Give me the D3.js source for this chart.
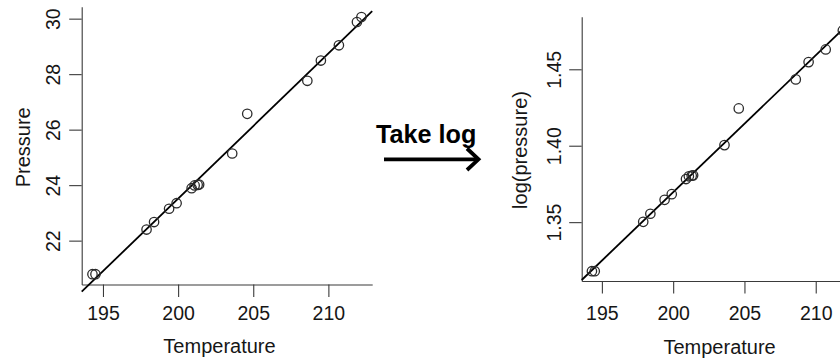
<!DOCTYPE html>
<html>
<head>
<meta charset="utf-8">
<script src="https://cdn.jsdelivr.net/npm/d3@7"></script>
<style>
  html, body { margin: 0; padding: 0; background: #fff; }
  svg { display: block; font-family: "Liberation Sans", Arial, Helvetica, sans-serif; }
</style>
</head>
<body>
<svg id="chart" width="840" height="358"></svg>
<script>
// Boiling point of water (°F) and barometric pressure (inHg)
const temperature = [194.5, 194.3, 197.9, 198.4, 199.4, 199.9, 200.9, 201.1, 201.4,
                     201.3, 203.6, 204.6, 209.5, 208.6, 210.7, 211.9, 212.2];
const pressure    = [20.79, 20.79, 22.40, 22.67, 23.15, 23.35, 23.89, 23.99, 24.02,
                     24.01, 25.14, 26.57, 28.49, 27.76, 29.04, 29.88, 30.06];
const logPressure = [1.3179, 1.3179, 1.3502, 1.3555, 1.3646, 1.3683, 1.3782, 1.3800, 1.3806,
                     1.3804, 1.4004, 1.4244, 1.4547, 1.4434, 1.4630, 1.4754, 1.4780];

const temperatureTicks = [195, 200, 205, 210];
const pressureTicks    = [22, 24, 26, 28, 30];
const logPressureTicks = [1.35, 1.40, 1.45];

const svg = d3.select("#chart");
const axisColor = "#3a3a3a";
const textColor = "#161616";

// ordinary least squares fit y = a + b x
function leastSquares(xs, ys) {
  const mx = d3.mean(xs), my = d3.mean(ys);
  let sxy = 0, sxx = 0;
  xs.forEach((x, i) => { sxy += (x - mx) * (ys[i] - my); sxx += (x - mx) * (x - mx); });
  const b = sxy / sxx;
  return { a: my - b * mx, b };
}

// R-style padded range (4% on each side)
function padded(values) {
  const [lo, hi] = d3.extent(values);
  const d = (hi - lo) * 0.04;
  return [lo - d, hi + d];
}

function scatterPanel(opts) {
  const { xs, ys, yTicks, yFormat, xRange, yRange, yLabel, xLabelX, yLabelY,
          yLabelBaseline, yTickBaseline, xTickBaseline, xLabelBaseline } = opts;
  const x = d3.scaleLinear().domain(padded(xs)).range(xRange);
  const y = d3.scaleLinear().domain(padded(ys)).range(yRange);
  const g = svg.append("g");

  // x axis
  const gx = g.append("g")
    .attr("transform", `translate(0,${yRange[0]})`)
    .call(d3.axisBottom(x).tickValues(temperatureTicks).tickSize(12.5).tickSizeOuter(0));
  gx.select(".domain").attr("stroke", axisColor).attr("stroke-width", 1.1);
  gx.selectAll(".tick line").attr("stroke", axisColor).attr("stroke-width", 1.1);
  gx.selectAll(".tick text")
    .attr("y", xTickBaseline - yRange[0]).attr("dy", null)
    .attr("font-size", 19.5).attr("fill", textColor);

  // y axis with labels turned parallel to the axis
  const gy = g.append("g")
    .attr("transform", `translate(${xRange[0]},0)`)
    .call(d3.axisLeft(y).tickValues(yTicks).tickFormat(yFormat).tickSize(12.5).tickSizeOuter(0));
  gy.select(".domain").attr("stroke", axisColor).attr("stroke-width", 1.1);
  gy.selectAll(".tick line").attr("stroke", axisColor).attr("stroke-width", 1.1);
  gy.selectAll(".tick text")
    .attr("transform", "rotate(-90)")
    .attr("x", 0).attr("y", yTickBaseline - xRange[0]).attr("dy", null)
    .attr("text-anchor", "middle")
    .attr("font-size", 19.5).attr("fill", textColor);

  // fitted line across the x range
  const fit = leastSquares(xs, ys);
  const [x0, x1] = x.domain();
  g.append("line")
    .attr("x1", x(x0)).attr("y1", y(fit.a + fit.b * x0))
    .attr("x2", x(x1)).attr("y2", y(fit.a + fit.b * x1))
    .attr("stroke", "#000").attr("stroke-width", 1.8);

  // observations
  g.append("g").selectAll("circle")
    .data(xs.map((v, i) => [v, ys[i]]))
    .join("circle")
    .attr("cx", d => x(d[0])).attr("cy", d => y(d[1]))
    .attr("r", 4.7)
    .attr("fill", "none").attr("stroke", "#2b2b2b").attr("stroke-width", 1.3);

  // axis titles
  g.append("text")
    .attr("x", xLabelX).attr("y", xLabelBaseline)
    .attr("text-anchor", "middle").attr("font-size", 20).attr("fill", textColor)
    .text("Temperature");
  g.append("text")
    .attr("transform", `translate(${yLabelBaseline},${yLabelY}) rotate(-90)`)
    .attr("text-anchor", "middle").attr("font-size", 20).attr("fill", textColor)
    .text(yLabel);
}

scatterPanel({
  xs: temperature, ys: pressure,
  yTicks: pressureTicks, yFormat: d3.format("d"),
  xRange: [81.7, 372.2], yRange: [284.5, 6.7],
  yLabel: "Pressure", xLabelX: 219.5, yLabelY: 147.3,
  yLabelBaseline: 29.5, yTickBaseline: 60, xTickBaseline: 320, xLabelBaseline: 352.5
});

scatterPanel({
  xs: temperature, ys: logPressure,
  yTicks: logPressureTicks, yFormat: d3.format(".2f"),
  xRange: [581.7, 857.3], yRange: [281, 16.7],
  yLabel: "log(pressure)", xLabelX: 719.6, yLabelY: 150,
  yLabelBaseline: 527, yTickBaseline: 560.7, xTickBaseline: 319.5, xLabelBaseline: 354
});

// transformation caption and arrow between the panels
svg.append("text")
  .attr("x", 376).attr("y", 143.3)
  .attr("font-size", 25.2).attr("font-weight", "bold").attr("fill", "#000")
  .text("Take log");

svg.append("line")
  .attr("x1", 384).attr("y1", 159.3).attr("x2", 477).attr("y2", 159.3)
  .attr("stroke", "#000").attr("stroke-width", 3.8);
svg.append("path")
  .attr("d", "M467,148.5 L478.5,159.3 L467,170")
  .attr("fill", "none").attr("stroke", "#000").attr("stroke-width", 3.8)
  .attr("stroke-linejoin", "miter");
</script>
</body>
</html>
